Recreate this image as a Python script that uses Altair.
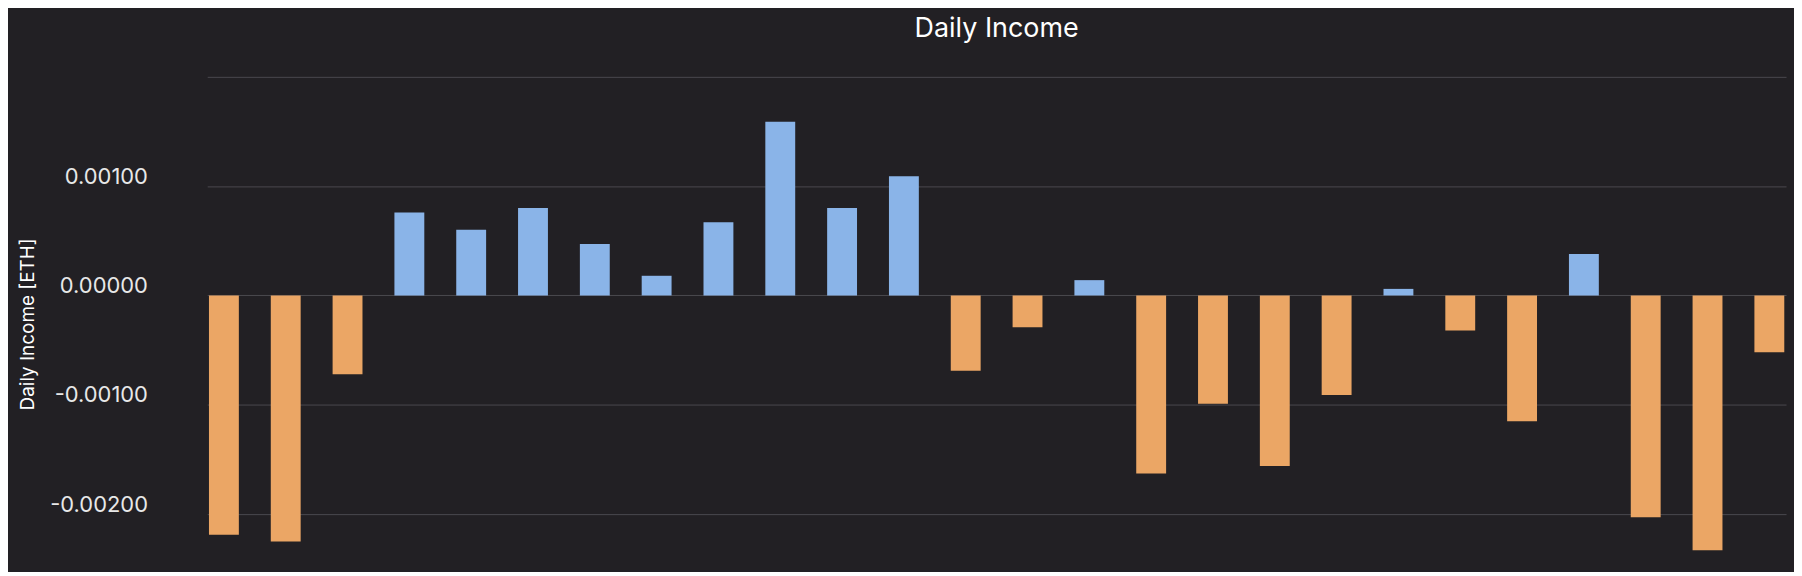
import altair as alt
import pandas as pd

days = list(range(1, 27))
income = [-0.00219, -0.00225, -0.00072, 0.00076, 0.00060, 0.00080, 0.00047, 0.00018,
          0.00067, 0.00159, 0.00080, 0.00109, -0.00069, -0.00029, 0.00014, -0.00163,
          -0.00099, -0.00156, -0.00091, 0.00006, -0.00032, -0.00115, 0.00038, -0.00203,
          -0.00233, -0.00052]

df = pd.DataFrame({"day": days, "income": income})
df["sign"] = ["pos" if v >= 0 else "neg" for v in income]

chart = alt.Chart(df).mark_bar(size=30).encode(
    x=alt.X("day:O", axis=None, scale=alt.Scale(paddingInner=0.5, paddingOuter=0.02)),
    y=alt.Y("income:Q", title="Daily Income [ETH]",
            scale=alt.Scale(domain=[-0.00252, 0.002], nice=False),
            axis=alt.Axis(values=[-0.002, -0.001, 0, 0.001, 0.002],
                          labelExpr="datum.value > 0.0015 ? '' : replace(format(datum.value, '.5f'), '−', '-')",
                          domain=False, ticks=False, labelPadding=60,
                          labelFontSize=22, titleFontSize=19, titleFontWeight="normal",
                          labelColor="#e8e8e8", titleColor="#ffffff", gridColor="#4a484e",
                          labelOffset=-10, titlePadding=12)),
    color=alt.Color("sign:N", legend=None,
                    scale=alt.Scale(domain=["pos", "neg"], range=["#8ab4e8", "#eba665"])),
).properties(
    width=1585, height=496,
    title=alt.Title("Daily Income", fontSize=27, fontWeight="normal", color="#ffffff", offset=34),
    background="#222024",
    padding={"left": 10, "top": 6, "right": 8, "bottom": 0},
).configure(font="Inter", view=alt.ViewConfig(stroke=None))

chart.save("out.html", embed_options={"renderer": "svg", "actions": False})
